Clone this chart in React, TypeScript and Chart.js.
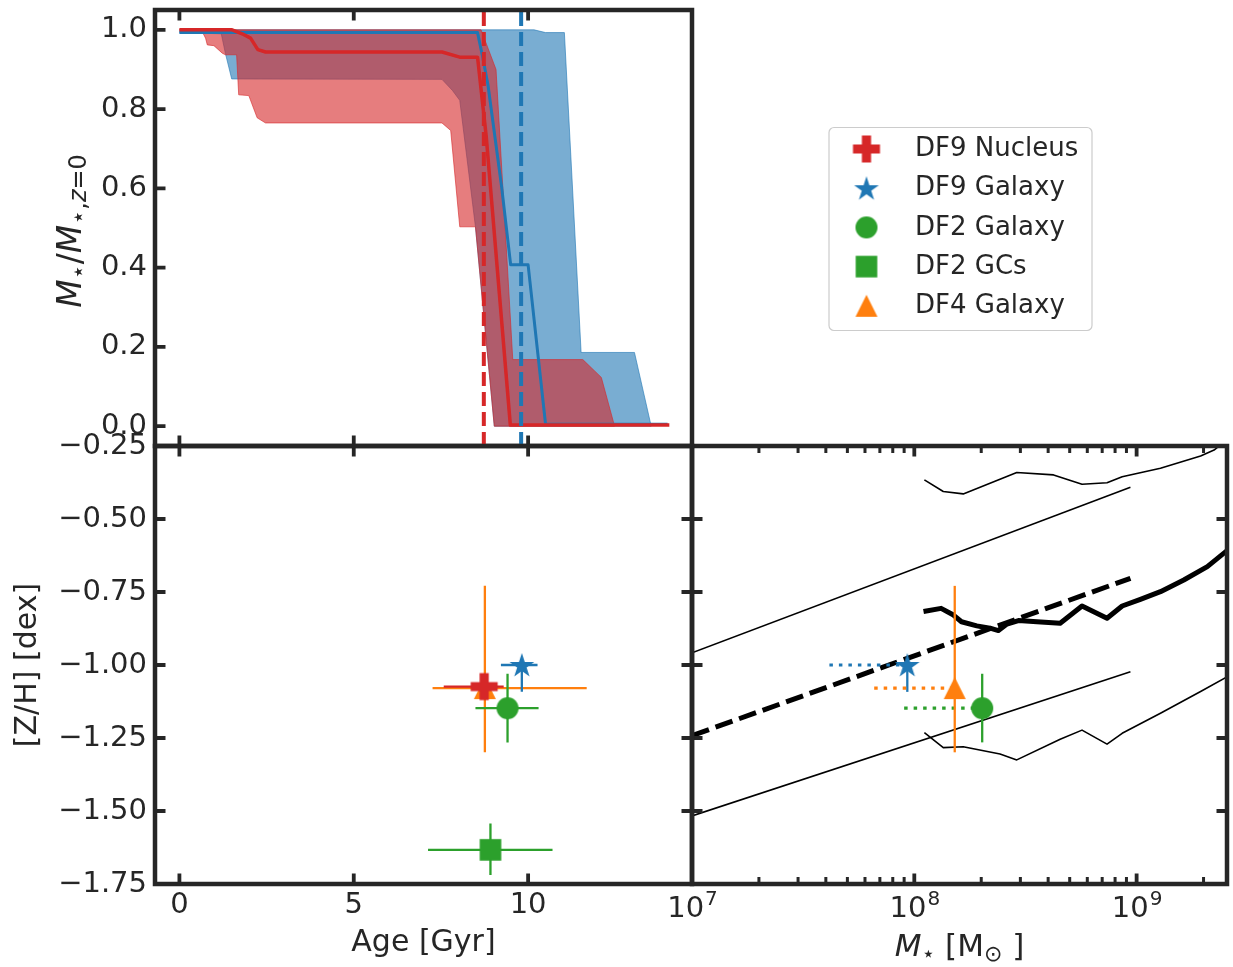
import React, { useEffect, useRef } from 'react';
import { Chart, registerables } from 'chart.js';

Chart.register(...registerables);

const W = 1233;
const H = 967;
const FAMILY = "'DejaVu Sans', 'Liberation Sans', sans-serif";
const INK = '#262626';
const C_RED = '#d62728';
const C_BLUE = '#1f77b4';
const C_GREEN = '#2ca02c';
const C_ORANGE = '#ff7f0e';
const BAND_BLUE = 'rgba(31,119,180,0.6)';
const BAND_RED = 'rgba(214,39,40,0.6)';

// ---------------- tick values ----------------
const ageTicks = [0, 5, 10];
const fracTicks = [0, 0.2, 0.4, 0.6, 0.8, 1.0];
const zhTicks = [-1.75, -1.5, -1.25, -1.0, -0.75, -0.5, -0.25];
const massMajorTicks = [1e7, 1e8, 1e9];
const massMinorTicks = [2e7, 3e7, 4e7, 5e7, 6e7, 7e7, 8e7, 9e7, 2e8, 3e8, 4e8, 5e8, 6e8, 7e8, 8e8, 9e8, 2e9];
const massTickBase = ['10', '10', '10'];
const massTickExp = ['7', '8', '9'];

// ---------------- top panel: cumulative mass fraction ----------------
const blueBandUpperAge = [0, 10.17, 10.5, 11.04, 11.52, 13.05, 13.53];
const blueBandUpperFrac = [1.0, 1.0, 0.993, 0.993, 0.186, 0.186, 0.0];
const blueBandLowerAge = [0, 1.2, 1.32, 1.5, 7.53, 7.83, 8.04, 8.49, 9.03, 13.53];
const blueBandLowerFrac = [0.993, 0.99, 0.94, 0.876, 0.875, 0.847, 0.822, 0.503, 0.0, 0.0];

const redBandUpperAge = [0, 8.65, 9.08, 9.56, 11.57, 12.1, 12.48];
const redBandUpperFrac = [1.0, 1.0, 0.9, 0.168, 0.168, 0.123, 0.0];
const redBandLowerAge = [0, 0.65, 0.75, 0.8, 0.99, 1.23, 1.32, 1.64, 1.7, 1.99, 2.23, 2.47, 7.53, 7.78, 8.04, 8.49, 9.03, 12.48];
const redBandLowerFrac = [1.0, 0.996, 0.979, 0.962, 0.96, 0.941, 0.937, 0.937, 0.836, 0.834, 0.778, 0.765, 0.765, 0.746, 0.503, 0.503, 0.0, 0.0];

const blueLineAge = [0, 8.55, 8.7, 8.85, 9.24, 9.5, 10.0, 10.5, 14.0];
const blueLineFrac = [0.993, 0.993, 0.93, 0.86, 0.604, 0.407, 0.407, 0.005, 0.005];
const redLineAge = [0, 1.51, 1.8, 2.04, 2.25, 2.47, 7.53, 8.04, 8.55, 8.8, 9.49, 14.05];
const redLineFrac = [1.0, 1.0, 0.99, 0.979, 0.95, 0.944, 0.944, 0.931, 0.931, 0.73, 0.003, 0.003];

const nucleusMeanAge = 8.73;
const galaxyMeanAge = 9.8;

// ---------------- objects ----------------
const objNames = ['DF9 Nucleus', 'DF9 Galaxy', 'DF2 Galaxy', 'DF2 GCs', 'DF4 Galaxy'];
const objColors = [C_RED, C_BLUE, C_GREEN, C_GREEN, C_ORANGE];
const objShapes = ['plus', 'star', 'circle', 'square', 'triangle'];
const objAge = [8.74, 9.82, 9.41, 8.92, 8.76];
const objAgeErrLo = [1.16, 0.6, 0.92, 1.79, 1.5];
const objAgeErrHi = [0.56, 0.45, 0.89, 1.78, 2.92];
const objZH = [-1.074, -1.0, -1.148, -1.633, -1.079];
const objZHErrLo = [0.0, 0.092, 0.117, 0.086, 0.22];
const objZHErrHi = [0.0, 0.0, 0.118, 0.09, 0.35];
const leftDrawOrder = [4, 3, 2, 1, 0];

// stellar masses (only galaxies), index into the object arrays
const massObjIdx = [2, 1, 4];
const massValue = [2.02e8, 9.3e7, 1.52e8];
const massLow = [9.0e7, 4.15e7, 6.6e7];

// ---------------- mass-metallicity relations ----------------
const relMass = [1e7, 9.38e8];
const relMid = [-1.242, -0.703];
const relUpper = [-0.958, -0.391];
const relLower = [-1.517, -1.023];

const simMass = [1.1e8, 1.32e8, 1.5e8, 1.63e8, 1.91e8, 2.19e8, 2.39e8, 2.61e8, 2.94e8, 3.56e8, 4.53e8, 5.68e8, 7.36e8, 8.61e8, 1.04e9, 1.28e9, 1.63e9, 2.08e9, 2.63e9];
const simMid = [-0.817, -0.806, -0.829, -0.852, -0.866, -0.874, -0.882, -0.86, -0.848, -0.852, -0.857, -0.798, -0.84, -0.798, -0.775, -0.749, -0.709, -0.663, -0.6];
const simUpMass = [1.11e8, 1.35e8, 1.66e8, 2.89e8, 4.23e8, 5.68e8, 7.36e8, 8.61e8, 1.28e9, 1.94e9, 2.23e9, 2.63e9];
const simUp = [-0.366, -0.406, -0.414, -0.341, -0.349, -0.381, -0.376, -0.355, -0.326, -0.284, -0.264, -0.22];
const simLoMass = [1.11e8, 1.35e8, 1.66e8, 2.43e8, 2.89e8, 4.53e8, 5.68e8, 7.36e8, 8.61e8, 1.28e9, 1.94e9, 2.63e9];
const simLo = [-1.232, -1.283, -1.28, -1.305, -1.325, -1.254, -1.223, -1.271, -1.234, -1.165, -1.091, -1.035];

// ---------------- helpers ----------------
const zip = (xs: number[], ys: number[]) => xs.map((x, i) => ({ x, y: ys[i] }));
const minus = (s: string) => s.replace('-', '\u2212');

function makeMarker(shape: string, color: string): HTMLCanvasElement {
  const S = 34;
  const c = document.createElement('canvas');
  c.width = S;
  c.height = S;
  const g = c.getContext('2d')!;
  g.translate(S / 2, S / 2);
  g.fillStyle = color;
  g.beginPath();
  if (shape === 'circle') {
    g.arc(0, 0, 11, 0, Math.PI * 2);
  } else if (shape === 'square') {
    g.rect(-10.8, -10.8, 21.6, 21.6);
  } else if (shape === 'triangle') {
    g.moveTo(0, -11);
    g.lineTo(11, 11);
    g.lineTo(-11, 11);
    g.closePath();
  } else if (shape === 'plus') {
    const a = 13.5;
    const w = 4.6;
    const p = [[-w, -a], [w, -a], [w, -w], [a, -w], [a, w], [w, w], [w, a], [-w, a], [-w, w], [-a, w], [-a, -w], [-w, -w]];
    p.forEach(([x, y], i) => (i ? g.lineTo(x, y) : g.moveTo(x, y)));
    g.closePath();
  } else if (shape === 'star') {
    const R = 13;
    const r = R * 0.382;
    for (let i = 0; i < 10; i++) {
      const ang = -Math.PI / 2 + (i * Math.PI) / 5;
      const rr = i % 2 === 0 ? R : r;
      const x = rr * Math.cos(ang);
      const y = rr * Math.sin(ang) + 1;
      if (i === 0) g.moveTo(x, y);
      else g.lineTo(x, y);
    }
    g.closePath();
  }
  g.fill();
  return c;
}

type Seg = { t: string; size: number; italic?: boolean; dy?: number };
function drawRich(ctx: CanvasRenderingContext2D, segs: Seg[], x: number, y: number, rot: number) {
  ctx.save();
  ctx.translate(x, y);
  ctx.rotate(rot);
  ctx.fillStyle = INK;
  ctx.textAlign = 'left';
  ctx.textBaseline = 'alphabetic';
  const fontOf = (s: Seg) => `${s.italic ? 'italic ' : ''}${s.size}px ${FAMILY}`;
  const widths = segs.map((s) => {
    ctx.font = fontOf(s);
    return ctx.measureText(s.t).width;
  });
  const total = widths.reduce((a, b) => a + b, 0);
  let cx = -total / 2;
  segs.forEach((s, i) => {
    ctx.font = fontOf(s);
    ctx.fillText(s.t, cx, s.dy || 0);
    cx += widths[i];
  });
  ctx.restore();
}

type SideTicks = { major?: number[]; minor?: number[] };
type FrameCfg = { left?: SideTicks; right?: SideTicks; top?: SideTicks; bottom?: SideTicks };
function framePlugin(cfg: FrameCfg) {
  return {
    id: 'panelFrame',
    afterDatasetsDraw(chart: any) {
      const { ctx, chartArea: a, scales } = chart;
      const xs = scales.x;
      const ys = scales.y;
      ctx.save();
      ctx.strokeStyle = INK;
      ctx.lineCap = 'butt';
      const draw = (side: string, vals: number[] | undefined, len: number, lw: number) => {
        if (!vals) return;
        ctx.lineWidth = lw;
        ctx.beginPath();
        vals.forEach((v) => {
          if (side === 'left' || side === 'right') {
            const py = ys.getPixelForValue(v);
            const x0 = side === 'left' ? a.left : a.right;
            const dir = side === 'left' ? 1 : -1;
            ctx.moveTo(x0, py);
            ctx.lineTo(x0 + dir * len, py);
          } else {
            const px = xs.getPixelForValue(v);
            const y0 = side === 'top' ? a.top : a.bottom;
            const dir = side === 'top' ? 1 : -1;
            ctx.moveTo(px, y0);
            ctx.lineTo(px, y0 + dir * len);
          }
        });
        ctx.stroke();
      };
      (['left', 'right', 'top', 'bottom'] as const).forEach((s) => {
        const t = cfg[s];
        if (!t) return;
        draw(s, t.minor, 7, 3);
        draw(s, t.major, 10.5, 3.8);
      });
      ctx.lineWidth = 4.5;
      ctx.strokeRect(a.left, a.top, a.right - a.left, a.bottom - a.top);
      ctx.restore();
    },
  };
}

const fixAxis = (size: number, horizontal: boolean) => (scale: any) => {
  if (horizontal) scale.height = size;
  else scale.width = size;
  scale.paddingTop = 0;
  scale.paddingBottom = 0;
  scale.paddingLeft = 0;
  scale.paddingRight = 0;
};
const setTicks = (vals: number[]) => (scale: any) => {
  scale.ticks = vals.map((v) => ({ value: v }));
};

const noGrid = { display: false, drawTicks: false };
const noBorder = { display: false };
const tickFont = { family: FAMILY, size: 29 };

function lineDs(data: any[], color: string, width: number, order: number, extra: any = {}) {
  return {
    data,
    borderColor: color,
    backgroundColor: color,
    borderWidth: width,
    pointRadius: 0,
    showLine: true,
    fill: false,
    order,
    borderJoinStyle: 'round',
    ...extra,
  };
}

function baseOptions(padding: any, plugins: any = {}) {
  return {
    responsive: false,
    animation: false,
    devicePixelRatio: 1,
    events: [],
    layout: { autoPadding: false, padding },
    plugins: { legend: { display: false }, tooltip: { enabled: false }, ...plugins },
  };
}

// ---------------- chart configs ----------------
function topConfig(markers: HTMLCanvasElement[]) {
  const bluePoly = [...zip(blueBandUpperAge, blueBandUpperFrac), ...zip(blueBandLowerAge, blueBandLowerFrac).reverse()];
  const redPoly = [...zip(redBandUpperAge, redBandUpperFrac), ...zip(redBandLowerAge, redBandLowerFrac).reverse()];
  const datasets = [
    lineDs(bluePoly, BAND_BLUE, 1, 10, { fill: 'shape', backgroundColor: BAND_BLUE }),
    lineDs(redPoly, BAND_RED, 1, 9, { fill: 'shape', backgroundColor: BAND_RED }),
    lineDs(zip(blueLineAge, blueLineFrac), C_BLUE, 3, 8),
    lineDs(zip(redLineAge, redLineFrac), C_RED, 3.5, 7),
    lineDs([{ x: nucleusMeanAge, y: -0.05 }, { x: nucleusMeanAge, y: 1.05 }], C_RED, 4, 6, { borderDash: [14, 6] }),
    lineDs([{ x: galaxyMeanAge, y: -0.05 }, { x: galaxyMeanAge, y: 1.05 }], C_BLUE, 4, 5, { borderDash: [14, 6] }),
  ];
  const titlePlugin = {
    id: 'topTitles',
    afterDraw(chart: any) {
      const { ctx, chartArea: a } = chart;
      drawRich(
        ctx,
        [
          { t: 'M', size: 33, italic: true },
          { t: '\u22C6', size: 24, dy: 5 },
          { t: '/', size: 33 },
          { t: 'M', size: 33, italic: true },
          { t: '\u22C6,', size: 24, dy: 5 },
          { t: 'z', size: 24, italic: true, dy: 5 },
          { t: '=0', size: 24, dy: 5 },
        ],
        a.left - 74,
        (a.top + a.bottom) / 2 + 3,
        -Math.PI / 2
      );
    },
  };
  const legendPlugin = {
    id: 'dfLegend',
    afterDraw(chart: any) {
      const { ctx, chartArea: a } = chart;
      const bx = a.right + 137;
      const by = 127.5;
      const bw = 263;
      const bh = 203;
      ctx.save();
      ctx.beginPath();
      ctx.roundRect(bx, by, bw, bh, 5);
      ctx.fillStyle = 'rgba(255,255,255,0.8)';
      ctx.fill();
      ctx.strokeStyle = '#cccccc';
      ctx.lineWidth = 1.2;
      ctx.stroke();
      ctx.font = `26px ${FAMILY}`;
      ctx.fillStyle = INK;
      ctx.textAlign = 'left';
      ctx.textBaseline = 'middle';
      objNames.forEach((name, i) => {
        const cy = by + 21.5 + i * 39.2;
        const m = markers[i];
        ctx.drawImage(m, bx + 37.5 - m.width / 2, cy - m.height / 2);
        ctx.fillText(name, bx + 86, cy + 0.5);
      });
      ctx.restore();
    },
  };
  return {
    type: 'line',
    data: { datasets },
    options: {
      ...baseOptions({ left: 0, top: 10, right: W - 692, bottom: H - 446 }),
      scales: {
        x: {
          type: 'linear',
          min: -0.7,
          max: 14.7,
          ticks: { display: false },
          grid: noGrid,
          border: noBorder,
          afterBuildTicks: setTicks(ageTicks),
          afterFit: fixAxis(0, true),
        },
        y: {
          type: 'linear',
          min: -0.05,
          max: 1.05,
          ticks: { font: tickFont, color: INK, padding: 8, autoSkip: false, callback: (v: number) => v.toFixed(1) },
          grid: noGrid,
          border: noBorder,
          afterBuildTicks: setTicks(fracTicks),
          afterFit: fixAxis(155, false),
        },
      },
    },
    plugins: [
      framePlugin({ left: { major: fracTicks }, top: { major: ageTicks }, bottom: { major: ageTicks } }),
      titlePlugin,
      legendPlugin,
    ],
  };
}

function bottomLeftConfig(markers: HTMLCanvasElement[]) {
  const datasets: any[] = [];
  let order = 100;
  leftDrawOrder.forEach((i) => {
    const c = objColors[i];
    const err: any[] = [
      { x: objAge[i] - objAgeErrLo[i], y: objZH[i] },
      { x: objAge[i] + objAgeErrHi[i], y: objZH[i] },
    ];
    if (objZHErrLo[i] + objZHErrHi[i] > 0) {
      err.push({ x: objAge[i], y: null });
      err.push({ x: objAge[i], y: objZH[i] - objZHErrLo[i] });
      err.push({ x: objAge[i], y: objZH[i] + objZHErrHi[i] });
    }
    datasets.push(lineDs(err, c, 2.3, order--));
    datasets.push({
      data: [{ x: objAge[i], y: objZH[i] }],
      showLine: false,
      pointStyle: markers[i],
      pointRadius: 12,
      order: order--,
    });
  });
  return {
    type: 'line',
    data: { datasets },
    options: {
      ...baseOptions({ left: 0, top: 446, right: W - 692, bottom: 0 }),
      scales: {
        x: {
          type: 'linear',
          min: -0.7,
          max: 14.7,
          ticks: { font: tickFont, color: INK, padding: 4, autoSkip: false, maxRotation: 0, callback: (v: number) => String(v) },
          grid: noGrid,
          border: noBorder,
          title: { display: true, text: 'Age [Gyr]', color: INK, font: { family: FAMILY, size: 30 }, padding: { top: 0, bottom: 6 } },
          afterBuildTicks: setTicks(ageTicks),
          afterFit: fixAxis(H - 884, true),
        },
        y: {
          type: 'linear',
          min: -1.75,
          max: -0.25,
          ticks: { font: tickFont, color: INK, padding: 8, autoSkip: false, callback: (v: number) => minus(v.toFixed(2)) },
          grid: noGrid,
          border: noBorder,
          title: { display: true, text: '[Z/H] [dex]', color: INK, font: { family: FAMILY, size: 30 }, padding: { top: 10, bottom: 0 } },
          afterBuildTicks: setTicks(zhTicks),
          afterFit: fixAxis(155, false),
        },
      },
    },
    plugins: [framePlugin({ left: { major: zhTicks }, right: { major: zhTicks }, top: { major: ageTicks }, bottom: { major: ageTicks } })],
  };
}

function bottomRightConfig(markers: HTMLCanvasElement[]) {
  const datasets: any[] = [
    lineDs(zip(relMass, relUpper), '#000', 1.6, 200),
    lineDs(zip(relMass, relLower), '#000', 1.6, 199),
    lineDs(zip(relMass, relMid), '#000', 5, 198, { borderDash: [18, 7] }),
    lineDs(zip(simMass, simMid), '#000', 5, 197),
    lineDs(zip(simUpMass, simUp), '#000', 1.6, 196),
    lineDs(zip(simLoMass, simLo), '#000', 1.6, 195),
  ];
  let order = 100;
  massObjIdx.forEach((i, k) => {
    const c = objColors[i];
    datasets.push(
      lineDs([{ x: massLow[k], y: objZH[i] }, { x: massValue[k], y: objZH[i] }], c, 3.2, order--, { borderDash: [3.5, 6] })
    );
    datasets.push(
      lineDs([{ x: massValue[k], y: objZH[i] - objZHErrLo[i] }, { x: massValue[k], y: objZH[i] + objZHErrHi[i] }], c, 2.3, order--)
    );
    datasets.push({
      data: [{ x: massValue[k], y: objZH[i] }],
      showLine: false,
      pointStyle: markers[i],
      pointRadius: 12,
      order: order--,
    });
  });
  const labelPlugin = {
    id: 'massLabels',
    afterDraw(chart: any) {
      const { ctx, chartArea: a, scales } = chart;
      ctx.save();
      ctx.fillStyle = INK;
      ctx.textBaseline = 'alphabetic';
      ctx.textAlign = 'left';
      massMajorTicks.forEach((v, i) => {
        const px = scales.x.getPixelForValue(v);
        ctx.font = `29px ${FAMILY}`;
        const w1 = ctx.measureText(massTickBase[i]).width;
        ctx.font = `20px ${FAMILY}`;
        const w2 = ctx.measureText(massTickExp[i]).width;
        const x0 = px - (w1 + w2) / 2;
        ctx.font = `29px ${FAMILY}`;
        ctx.fillText(massTickBase[i], x0, a.bottom + 33);
        ctx.font = `20px ${FAMILY}`;
        ctx.fillText(massTickExp[i], x0 + w1 + 1, a.bottom + 21);
      });
      ctx.restore();
      drawRich(
        ctx,
        [
          { t: 'M', size: 31, italic: true },
          { t: '\u22C6', size: 22, dy: 5 },
          { t: ' [M', size: 31 },
          { t: '\u2299', size: 22, dy: 5 },
          { t: ' ]', size: 31 },
        ],
        (a.left + a.right) / 2,
        a.bottom + 72,
        0
      );
    },
  };
  return {
    type: 'line',
    data: { datasets },
    options: {
      ...baseOptions({ left: 692, top: 446, right: W - 1227, bottom: 0 }),
      scales: {
        x: {
          type: 'logarithmic',
          min: 1e7,
          max: 2.55e9,
          ticks: { display: false },
          grid: noGrid,
          border: noBorder,
          afterBuildTicks: setTicks(massMajorTicks),
          afterFit: fixAxis(H - 884, true),
        },
        y: {
          type: 'linear',
          min: -1.75,
          max: -0.25,
          ticks: { display: false },
          grid: noGrid,
          border: noBorder,
          afterBuildTicks: setTicks(zhTicks),
          afterFit: fixAxis(0, false),
        },
      },
    },
    plugins: [
      framePlugin({
        left: { major: zhTicks },
        right: { major: zhTicks },
        top: { major: massMajorTicks, minor: massMinorTicks },
        bottom: { major: massMajorTicks, minor: massMinorTicks },
      }),
      labelPlugin,
    ],
  };
}

export default function App() {
  const topRef = useRef<HTMLCanvasElement>(null);
  const blRef = useRef<HTMLCanvasElement>(null);
  const brRef = useRef<HTMLCanvasElement>(null);

  useEffect(() => {
    const markers = objShapes.map((s, i) => makeMarker(s, objColors[i]));
    const charts = [
      new Chart(brRef.current as HTMLCanvasElement, bottomRightConfig(markers) as any),
      new Chart(blRef.current as HTMLCanvasElement, bottomLeftConfig(markers) as any),
      new Chart(topRef.current as HTMLCanvasElement, topConfig(markers) as any),
    ];
    return () => charts.forEach((c) => c.destroy());
  }, []);

  const cs: React.CSSProperties = { position: 'absolute', left: 0, top: 0, width: W, height: H };
  return (
    <div style={{ position: 'absolute', left: 0, top: 0, width: W, height: H, background: '#ffffff', overflow: 'hidden' }}>
      <canvas ref={brRef} width={W} height={H} style={cs} />
      <canvas ref={blRef} width={W} height={H} style={cs} />
      <canvas ref={topRef} width={W} height={H} style={cs} />
    </div>
  );
}
